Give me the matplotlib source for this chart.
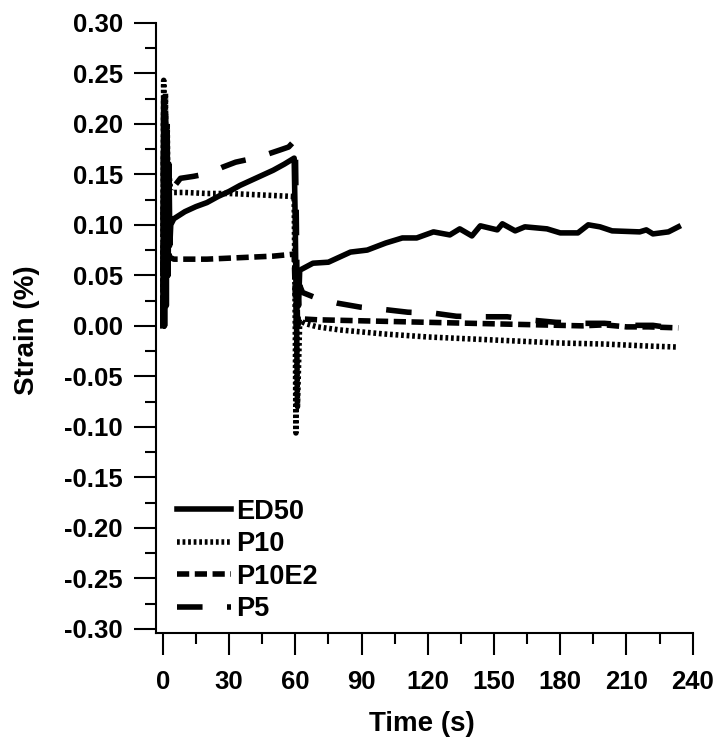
import matplotlib
matplotlib.use('Agg')
import matplotlib.pyplot as plt
from matplotlib.ticker import MultipleLocator, FormatStrFormatter

plt.rcParams['font.family'] = ['Liberation Sans', 'DejaVu Sans']
plt.rcParams['font.weight'] = 'bold'
plt.rcParams['axes.unicode_minus'] = False

# ED50
t_ed50 = [0, 0.4, 0.8, 1.2, 1.6, 2.0, 2.4, 2.8, 3.2, 3.6, 5, 10, 15, 20, 25, 30, 35, 40, 45,
          50, 55, 59.5, 60, 60.5, 61, 61.5, 62, 63.7, 68, 75, 85, 92.6, 101, 108.5, 115,
          122.6, 130, 134.5, 140, 143.8, 151.5, 153.8, 159.6, 164, 174, 180, 188, 192.7,
          198, 203.5, 216, 219, 222, 229, 233.5]
v_ed50 = [0.0, 0.225, 0.0, 0.21, 0.02, 0.19, 0.05, 0.16, 0.08, 0.100, 0.106, 0.113, 0.118,
          0.122, 0.128, 0.133, 0.139, 0.144, 0.149, 0.154, 0.160, 0.166, 0.10, 0.0, 0.04,
          0.02, 0.055, 0.057, 0.062, 0.063, 0.073, 0.075, 0.082, 0.087, 0.087, 0.093, 0.090,
          0.096, 0.089, 0.099, 0.095, 0.101, 0.094, 0.098, 0.096, 0.092, 0.092, 0.100, 0.098,
          0.094, 0.093, 0.095, 0.091, 0.093, 0.098]

# P10
t_p10 = [0, 0.4, 0.8, 1.2, 1.6, 2.0, 2.4, 2.8, 3.6, 5, 10, 20, 30, 40, 50, 59.5, 60, 60.3,
         60.6, 61, 62, 65, 70, 80, 90, 100, 120, 140, 160, 180, 200, 220, 233.5]
v_p10 = [0.0, 0.243, 0.02, 0.23, 0.05, 0.20, 0.10, 0.15, 0.133, 0.132, 0.132, 0.131, 0.131,
         0.130, 0.129, 0.128, 0.0, -0.106, 0.0, -0.08, 0.005, 0.002, -0.001, -0.004, -0.006,
         -0.008, -0.011, -0.013, -0.015, -0.017, -0.018, -0.020, -0.021]

# P10E2
t_p10e2 = [0, 0.4, 0.8, 1.2, 1.6, 2.0, 3.0, 5, 10, 20, 30, 40, 50, 59.5, 60, 61, 62, 70,
           90, 110, 130, 150, 170, 190, 200, 210, 220, 233.5]
v_p10e2 = [0.0, 0.20, 0.03, 0.15, 0.05, 0.10, 0.068, 0.066, 0.066, 0.066, 0.067, 0.068,
           0.069, 0.071, 0.03, 0.0, 0.007, 0.006, 0.005, 0.004, 0.003, 0.002, 0.001, 0.0,
           0.001, -0.001, -0.001, -0.002]

# P5
t_p5 = [0, 0.4, 0.8, 1.2, 1.6, 2.0, 3.0, 4.4, 8, 14, 21, 27, 33, 43.5, 53, 57, 60, 60.5,
        61, 62, 63.3, 69, 79, 89.5, 101, 111, 123, 133, 146, 156, 168, 178, 190, 200, 212,
        222, 233.5]
v_p5 = [0.0, 0.21, 0.03, 0.18, 0.08, 0.15, 0.13, 0.136, 0.146, 0.148, 0.151, 0.157, 0.162,
        0.167, 0.174, 0.177, 0.184, 0.10, 0.0, 0.04, 0.033, 0.028, 0.0225, 0.0185, 0.016,
        0.0135, 0.0125, 0.0095, 0.009, 0.009, 0.0055, 0.0035, 0.0025, 0.0025, 0.0005,
        0.0005, -0.003]

fig = plt.figure(figsize=(7.17, 7.45), dpi=100)
ax = fig.add_axes([0.2169, 0.1503, 0.7492, 0.8192])

lw = 4
ax.plot(t_ed50, v_ed50, color='black', lw=lw, ls='-', label='ED50')
ax.plot(t_p10, v_p10, color='black', lw=lw, ls=(0, (0.5, 0.5)), label='P10')
ax.plot(t_p10e2, v_p10e2, color='black', lw=lw, ls=(0, (2.2, 1.0)), label='P10E2')
ax.plot(t_p5, v_p5, color='black', lw=lw, ls=(0, (4.6, 4.4)), label='P5')

ax.set_xlim(-3.3, 240)
ax.set_ylim(-0.304, 0.30)
ax.xaxis.set_major_locator(MultipleLocator(30))
ax.xaxis.set_minor_locator(MultipleLocator(15))
ax.yaxis.set_major_locator(MultipleLocator(0.05))
ax.yaxis.set_minor_locator(MultipleLocator(0.025))
ax.yaxis.set_major_formatter(FormatStrFormatter('%.2f'))

for side in ['top', 'right']:
    ax.spines[side].set_visible(False)
for side in ['left', 'bottom']:
    ax.spines[side].set_linewidth(1.5)

ax.tick_params(which='major', direction='out', length=15.5, width=1.5, labelsize=18.5)
ax.tick_params(which='minor', direction='out', length=8, width=1.5)
ax.tick_params(axis='y', which='major', pad=8)
ax.tick_params(axis='x', which='major', pad=11)

ax.set_xlabel('Time (s)', fontsize=20, fontweight='bold')
ax.set_ylabel('Strain (%)', fontsize=20, fontweight='bold')
ax.xaxis.set_label_coords(0.496, -0.128)
ax.yaxis.set_label_coords(-0.215, 0.496)

ax.legend(loc='upper left', bbox_to_anchor=(0.040, 0.220), frameon=False,
          fontsize=19.5, handlelength=2.0, handletextpad=0.2, labelspacing=0.24,
          borderpad=0, borderaxespad=0)

fig.savefig('out.png', dpi=100)
